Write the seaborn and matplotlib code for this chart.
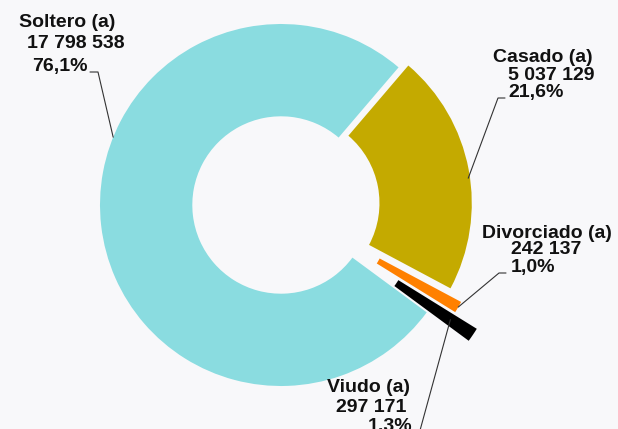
import numpy as np
import matplotlib
matplotlib.use("Agg")
import matplotlib.pyplot as plt
import seaborn as sns

# datos
categorias = ["Soltero (a)", "Viudo (a)", "Divorciado (a)", "Casado (a)"]
valores = [17798538, 297171, 242137, 5037129]
porcentajes = ["76,1%", "1,3%", "1,0%", "21,6%"]
colores = ["#8adce0", "#000000", "#ff8000", "#c4aa00"]
separacion = [0.0, 0.28, 0.13, 0.055]

sns.set_theme(style="white")
plt.rcParams["font.family"] = ["Liberation Sans", "DejaVu Sans"]

W, H = 618, 429
CX, CY, R = 281, 205, 181  # centro y radio en pixeles


def px(x, y):
    # pixel -> coordenadas de datos
    return (x - CX) / R, (CY - y) / R


fig = plt.figure(figsize=(W / 100, H / 100), dpi=100)
fig.patch.set_facecolor("#f8f8fa")
ax = fig.add_axes([0, 0, 1, 1])
ax.set_facecolor("#f8f8fa")

wedges, _ = ax.pie(valores, colors=colores, explode=separacion, startangle=49.5,
                   radius=1, wedgeprops=dict(width=0.51, linewidth=0))

ax.set_xlim(-CX / R, (W - CX) / R)
ax.set_ylim(-(H - CY) / R, CY / R)
ax.set_aspect("equal")
ax.axis("off")


def fmt(v):
    return f"{v:,}".replace(",", " ")


# etiquetas: lineas de texto (x, baseline), inicio de linea guia, angulo y radio del ancla
etiquetas = {
    "Soltero (a)": dict(pos=[(19, 27), (27, 48), (32, 71)], guia=[(90, 72), (98, 72)], ang=158, r=1.0),
    "Casado (a)": dict(pos=[(493, 62), (508, 80), (508, 97)], guia=[(505, 98), (498, 98)], ang=8, r=0.99),
    "Divorciado (a)": dict(pos=[(482, 238), (511, 254), (511, 272)], guia=[(506, 273), (499, 273)], ang=None, r=1.0),
    "Viudo (a)": dict(pos=[(327, 392), (336, 412), (368, 431)], guia=[(416, 445)], ang=None, r=0.85),
}

for w, cat, v, p in zip(wedges, categorias, valores, porcentajes):
    e = etiquetas[cat]
    lineas = [cat, fmt(v), p]
    for txt, (x, y) in zip(lineas, e["pos"]):
        tx, ty = px(x, y)
        ax.text(tx, ty, txt, ha="left", va="baseline", fontsize=14,
                fontweight="bold", color="#111111")
    ang = e["ang"] if e["ang"] is not None else (w.theta1 + w.theta2) / 2
    cx, cy = w.center
    ax_x = cx + e["r"] * np.cos(np.radians(ang))
    ax_y = cy + e["r"] * np.sin(np.radians(ang))
    pts = [px(*g) for g in e["guia"]] + [(ax_x, ax_y)]
    xs, ys = zip(*pts)
    ax.plot(xs, ys, color="#333333", lw=0.8)

fig.savefig("out.png", dpi=100, facecolor=fig.get_facecolor())
